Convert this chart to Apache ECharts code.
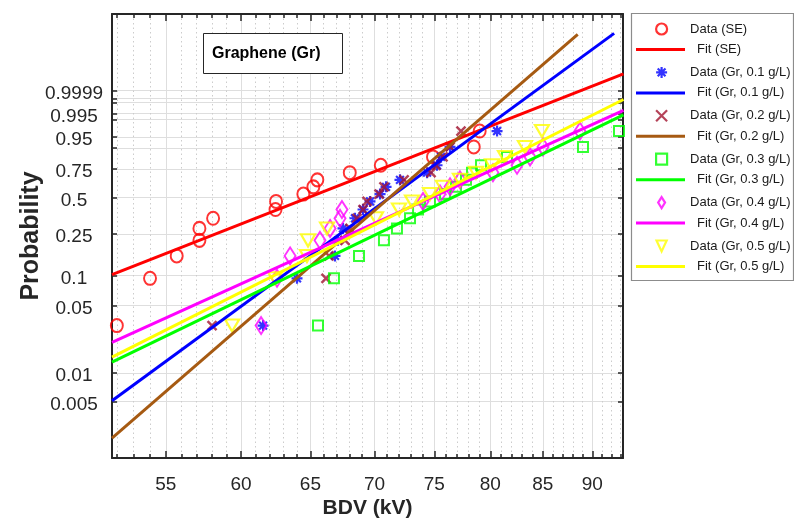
<!DOCTYPE html>
<html>
<head>
<meta charset="utf-8">
<script src="https://cdn.jsdelivr.net/npm/echarts@6/dist/echarts.min.js"></script>
<style>
  html, body { margin: 0; padding: 0; background: #ffffff; }
  #chart { width: 794px; height: 519px; }
</style>
</head>
<body>
<div id="chart"></div>
<script>
// Breakdown voltages (kV), sorted, one array per fluid
const bdvSE   = [51.98, 54.01, 55.70, 57.18, 57.18, 58.09, 62.43, 62.47, 64.47, 65.22, 65.52, 68.02, 70.50, 74.88, 78.49, 79.03];
const bdvGr01 = [61.54, 64.00, 66.87, 67.10, 67.49, 68.43, 69.07, 69.63, 70.44, 70.93, 72.08, 74.37, 75.23, 75.58, 76.37, 80.63];
const bdvGr02 = [58.02, 66.18, 66.41, 67.65, 68.04, 68.59, 69.07, 69.39, 70.36, 70.76, 72.42, 74.71, 75.14, 75.75, 76.37, 77.34];
const bdvGr03 = [65.57, 66.79, 68.75, 70.76, 71.83, 72.92, 73.60, 74.62, 75.93, 76.90, 77.79, 78.33, 79.15, 81.56, 89.04, 92.82];
const bdvGr04 = [61.40, 62.54, 63.49, 65.72, 66.49, 67.26, 67.41, 74.02, 75.49, 76.37, 77.25, 80.25, 82.51, 83.76, 85.02, 88.73];
const bdvGr05 = [59.38, 62.40, 64.74, 64.82, 66.26, 70.11, 72.00, 73.09, 74.62, 75.75, 77.25, 78.69, 80.16, 81.37, 83.27, 84.92];

// Cumulative failure probability assigned to each ranked sample
const rankProb = [0.031, 0.094, 0.156, 0.219, 0.281, 0.344, 0.406, 0.469, 0.531, 0.594, 0.656, 0.719, 0.781, 0.844, 0.906, 0.969];

// Two-parameter Weibull fits: scale (kV), shape, and the kV where each fitted line stops
const fitScale = [67.78, 72.94, 72.65, 79.37, 77.65, 77.13];
const fitShape = [8.22, 15.32, 18.16, 10.12, 9.49, 10.55];
const fitEnd   = [93.3, 92.3, 88.5, 93.3, 93.3, 93.3];
const fitStart = 51.69;

// Axis ticks
const bdvTicks = [55, 60, 65, 70, 75, 80, 85, 90];
const probTicks = [0.005, 0.01, 0.05, 0.1, 0.25, 0.5, 0.75, 0.9, 0.95, 0.99, 0.995, 0.999, 0.9995, 0.9999];
const probLabels = ['0.005', '0.01', '0.05', '0.1', '0.25', '0.5', '0.75', '0.95', '0.995', '0.9999'];

const groupNames = ['SE', 'Gr, 0.1 g/L', 'Gr, 0.2 g/L', 'Gr, 0.3 g/L', 'Gr, 0.4 g/L', 'Gr, 0.5 g/L'];
const groupData = [bdvSE, bdvGr01, bdvGr02, bdvGr03, bdvGr04, bdvGr05];

const FONT = "'Liberation Sans', Arial, Helvetica, sans-serif";
const AXIS_COLOR = '#262626';

// Weibull paper: x = ln(kV), y = ln(-ln(1 - p))
const weib = p => Math.log(-Math.log(1 - p));
const X_MIN = Math.log(51.69), X_MAX = Math.log(93.25);
const Y_MIN = -6.66, Y_MAX = 4.075;

const lnMajor = bdvTicks.map(Math.log);
const lnMinor = [];
for (let v = 52; v <= 93; v++) if (v % 5 !== 0) lnMinor.push(Math.log(v));
const wTicks = probTicks.map(weib);
const wLabels = probLabels.map(s => weib(parseFloat(s)));
const probFormatter = w => {
  let best = 0;
  wLabels.forEach((lw, i) => { if (Math.abs(lw - w) < Math.abs(wLabels[best] - w)) best = i; });
  return probLabels[best];
};

const TRIANGLE_DOWN = 'path://M0 0L14 0L7 12Z';
const markerStyles = [
  { symbol: 'circle', symbolSize: [12, 13], color: '#ff0000', width: 2 },
  { symbol: 'path://M5 0L5 10M0 5L10 5M1.46 1.46L8.54 8.54M8.54 1.46L1.46 8.54', symbolSize: 11, color: '#0000ff', width: 2.2 },
  { symbol: 'path://M0 0L10 10M10 0L0 10', symbolSize: 9, color: '#a2142f', width: 2.5 },
  { symbol: 'rect', symbolSize: 10, color: '#00ff00', width: 2 },
  { symbol: 'diamond', symbolSize: [11, 17], color: '#ff00ff', width: 2 },
  { symbol: TRIANGLE_DOWN, symbolSize: [14, 12], color: '#ffff00', width: 2.2 }
];
const legendIcons = ['circle', markerStyles[1].symbol, markerStyles[2].symbol, 'rect',
                     'path://M5 0L10 8L5 16L0 8Z', 'path://M0 0L12 0L6 13Z'];
const fitColors = ['#ff0000', '#0000ff', '#a65a12', '#00ff00', '#ff00ff', '#ffff00'];

const series = [];
groupData.forEach((vals, g) => {
  const m = markerStyles[g];
  series.push({
    type: 'scatter',
    name: 'Data (' + groupNames[g] + ')',
    xAxisIndex: 0, yAxisIndex: 0,
    symbol: m.symbol,
    symbolSize: m.symbolSize,
    symbolKeepAspect: false,
    itemStyle: { color: 'rgba(0,0,0,0)', borderColor: m.color, borderWidth: m.width },
    data: vals.map((v, i) => [Math.log(v), weib(rankProb[i])]),
    silent: true
  });
  const lnEta = Math.log(fitScale[g]);
  const lineAt = kv => [Math.log(kv), fitShape[g] * (Math.log(kv) - lnEta)];
  series.push({
    type: 'line',
    name: 'Fit (' + groupNames[g] + ')',
    xAxisIndex: 0, yAxisIndex: 0,
    symbol: 'none',
    lineStyle: { color: fitColors[g], width: 3 },
    itemStyle: { color: fitColors[g] },
    data: [lineAt(fitStart), lineAt(fitEnd[g])],
    silent: true
  });
});

const axisLine = { show: true, onZero: false, lineStyle: { color: AXIS_COLOR, width: 2 } };
const tickLine = { color: AXIS_COLOR, width: 1.5 };

const option = {
  animation: false,
  textStyle: { fontFamily: FONT },
  grid: { left: 112, top: 14, width: 511, height: 444, containLabel: false, outerBoundsMode: 'none' },
  xAxis: [
    {
      type: 'value', position: 'bottom', min: X_MIN, max: X_MAX,
      axisLine: axisLine,
      axisTick: { show: true, inside: true, length: 7, customValues: lnMajor, lineStyle: tickLine },
      axisLabel: { show: true, customValues: lnMajor, formatter: v => String(Math.round(Math.exp(v))),
                   fontSize: 19, color: AXIS_COLOR, margin: 17, fontFamily: FONT },
      splitLine: { show: true, lineStyle: { color: '#dedede', width: 1 } },
      name: 'BDV (kV)', nameLocation: 'middle', nameGap: 40, nameMoveOverlap: false,
      nameTextStyle: { fontSize: 21, fontWeight: 'bold', color: AXIS_COLOR, fontFamily: FONT }
    },
    {
      type: 'value', position: 'bottom', min: X_MIN, max: X_MAX,
      axisLine: { show: false, onZero: false },
      axisTick: { show: true, inside: true, length: 4, customValues: lnMinor, lineStyle: tickLine },
      axisLabel: { show: false },
      splitLine: { show: true, lineStyle: { color: '#cccccc', width: 1, type: [1.5, 3] } }
    },
    {
      type: 'value', position: 'top', min: X_MIN, max: X_MAX,
      axisLine: axisLine,
      axisTick: { show: true, inside: true, length: 7, customValues: lnMajor, lineStyle: tickLine },
      axisLabel: { show: false },
      splitLine: { show: false }
    },
    {
      type: 'value', position: 'top', min: X_MIN, max: X_MAX,
      axisLine: { show: false, onZero: false },
      axisTick: { show: true, inside: true, length: 4, customValues: lnMinor, lineStyle: tickLine },
      axisLabel: { show: false },
      splitLine: { show: false }
    }
  ],
  yAxis: [
    {
      type: 'value', position: 'left', min: Y_MIN, max: Y_MAX,
      axisLine: axisLine,
      axisTick: { show: true, inside: true, length: 5, customValues: wTicks, lineStyle: tickLine },
      axisLabel: { show: true, customValues: wLabels, formatter: probFormatter, align: 'center',
                   verticalAlign: 'top', lineHeight: 6,
                   fontSize: 19, color: AXIS_COLOR, margin: 38, fontFamily: FONT },
      splitLine: { show: true, lineStyle: { color: '#dedede', width: 1.2 } },
      name: 'Probability', nameLocation: 'middle', nameGap: 68, nameRotate: 90, nameMoveOverlap: false,
      nameTextStyle: { fontSize: 25, fontWeight: 'bold', color: AXIS_COLOR, fontFamily: FONT }
    },
    {
      type: 'value', position: 'right', min: Y_MIN, max: Y_MAX,
      axisLine: axisLine,
      axisTick: { show: true, inside: true, length: 5, customValues: wTicks, lineStyle: tickLine },
      axisLabel: { show: false },
      splitLine: { show: false }
    }
  ],
  legend: [
    {
      data: groupNames.map((n, g) => ({ name: 'Data (' + n + ')', icon: legendIcons[g] })),
      orient: 'vertical', left: 655, top: 22, padding: 0,
      itemWidth: 11, itemHeight: 11, itemGap: 29.4,
      selectedMode: false,
      itemStyle: { borderWidth: 2.2 },
      textStyle: { fontSize: 13, lineHeight: 14, color: '#1a1a1a', fontFamily: FONT, padding: [0, 0, 0, 18] }
    },
    {
      data: groupNames.map(n => ({ name: 'Fit (' + n + ')', icon: 'rect' })),
      orient: 'vertical', left: 636, top: 42.5, padding: 0,
      itemWidth: 49, itemHeight: 3, itemGap: 29.4,
      selectedMode: false,
      itemStyle: { borderWidth: 0 },
      textStyle: { fontSize: 13, lineHeight: 14, color: '#1a1a1a', fontFamily: FONT, padding: [0, 0, 0, 7] }
    }
  ],
  graphic: [
    {
      type: 'rect', silent: true,
      shape: { x: 631.5, y: 13.5, width: 162, height: 267 },
      style: { fill: 'none', stroke: '#8c8c8c', lineWidth: 1.2 }
    },
    {
      type: 'rect', silent: true, z: 10,
      shape: { x: 203.5, y: 33.5, width: 139, height: 40 },
      style: { fill: '#ffffff', stroke: AXIS_COLOR, lineWidth: 1 }
    },
    {
      type: 'text', silent: true, z: 11, x: 212, y: 53.5,
      style: { text: 'Graphene (Gr)', fill: '#000000', font: 'bold 16px ' + FONT,
               textAlign: 'left', textVerticalAlign: 'middle' }
    }
  ],
  series: series
};

const chart = echarts.init(document.getElementById('chart'), null, { renderer: 'canvas' });
chart.setOption(option);
</script>
</body>
</html>
